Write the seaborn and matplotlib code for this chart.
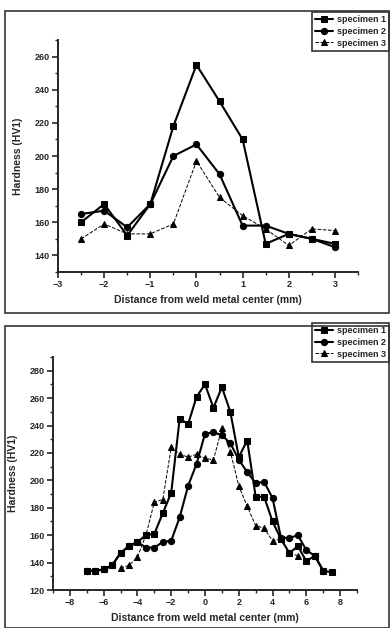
import pandas as pd
import seaborn as sns
import matplotlib.pyplot as plt
from matplotlib.patches import Rectangle
from matplotlib.ticker import MultipleLocator

sns.set_theme(style="ticks")
plt.rcParams['font.family'] = ['Liberation Sans', 'DejaVu Sans']
plt.rcParams['font.weight'] = 'bold'

# upper panel (narrow scan)
top_x = [-2.5, -2, -1.5, -1, -0.5, 0, 0.5, 1, 1.5, 2, 2.5, 3]
top_spec1 = [160, 171, 152, 171, 218, 255, 233, 210, 147, 153, 150, 147]
top_spec2 = [165, 167, 157, 171, 200, 207, 189, 158, 158, 153, 150, 145]
top_spec3 = [150, 159, 153, 153, 159, 197, 175, 164, 156, 146, 156, 155]

# lower panel (wide scan)
bot_x1 = [-7, -6.5, -6, -5.5, -5, -4.5, -4, -3.5, -3, -2.5, -2, -1.5, -1, -0.5, 0,
          0.5, 1, 1.5, 2, 2.5, 3, 3.5, 4, 4.5, 5, 5.5, 6, 6.5, 7, 7.5]
bot_spec1 = [134, 134, 135, 138, 147, 152, 155, 160, 161, 176, 191, 245, 241, 261, 270,
             253, 268, 250, 217, 229, 188, 188, 170, 157, 147, 152, 141, 145, 134, 133]
bot_x2 = [-7, -6.5, -6, -5.5, -5, -4.5, -4, -3.5, -3, -2.5, -2, -1.5, -1, -0.5, 0,
          0.5, 1, 1.5, 2, 2.5, 3, 3.5, 4, 4.5, 5, 5.5, 6, 6.5, 7]
bot_spec2 = [134, 134, 135, 138, 147, 152, 155, 151, 151, 155, 156, 173, 196, 212, 234,
             235, 233, 227, 215, 206, 198, 199, 187, 158, 158, 160, 149, 145, 134]
bot_x3 = [-5, -4.5, -4, -3.5, -3, -2.5, -2, -1.5, -1, -0.5, 0, 0.5, 1, 1.5, 2, 2.5,
          3, 3.5, 4, 4.5, 5, 5.5]
bot_spec3 = [136, 138, 144, 160, 184, 186, 224, 219, 217, 219, 216, 215, 238, 221, 196, 181,
             167, 165, 156, 157, 147, 145]

labels = ['specimen 1', 'specimen 2', 'specimen 3']
markers = ['s', 'o', '^']
styles = ['-', '-', '--']
widths = [1.5, 1.5, 0.7]

W, H = 391, 628
fig = plt.figure(figsize=(W / 100, H / 100), dpi=100)


def px_axes(left, top, right, bottom):
    return fig.add_axes([left / W, 1 - bottom / H, (right - left) / W, (bottom - top) / H])


def draw_panel(ax, series, xlim, ylim, xmaj, xmin, legend_top):
    for (xs, ys), lab, m, ls, lw in zip(series, labels, markers, styles, widths):
        df = pd.DataFrame({'x': xs, 'y': ys})
        sns.lineplot(data=df, x='x', y='y', ax=ax, color='black', marker=m,
                     markersize=4.5, markeredgecolor='black', linestyle=ls,
                     linewidth=lw, label=lab)
    ax.set_xlim(*xlim)
    ax.set_ylim(*ylim)
    ax.xaxis.set_major_locator(MultipleLocator(xmaj))
    ax.xaxis.set_minor_locator(MultipleLocator(xmin))
    ax.yaxis.set_major_locator(MultipleLocator(20))
    ax.yaxis.set_minor_locator(MultipleLocator(10))
    ax.tick_params(which='major', direction='out', length=4, width=1.2,
                   labelsize=6.5, pad=2)
    ax.tick_params(which='minor', direction='out', length=2, width=1)
    for s in ['top', 'right']:
        ax.spines[s].set_visible(False)
    for s in ['left', 'bottom']:
        ax.spines[s].set_linewidth(1.4)
    ax.set_xlabel('Distance from weld metal center (mm)', fontsize=7.5,
                  fontweight='bold', labelpad=4)
    ax.set_ylabel('Hardness (HV1)', fontsize=7.5, fontweight='bold', labelpad=8)
    leg = ax.legend(loc='upper right', bbox_to_anchor=(389 / W, 1 - legend_top / H),
                    bbox_transform=fig.transFigure, frameon=True, fancybox=False,
                    fontsize=6.5, handlelength=2.0, handletextpad=0.4,
                    borderpad=0.35, labelspacing=0.3, borderaxespad=0)
    leg.get_frame().set_edgecolor('black')
    leg.get_frame().set_linewidth(1.2)


ax1 = px_axes(58, 40, 358, 272)
draw_panel(ax1, [(top_x, top_spec1), (top_x, top_spec2), (top_x, top_spec3)],
           (-3, 3.5), (130, 270), 1, 0.5, 12)

ax2 = px_axes(53, 357, 357, 590)
draw_panel(ax2, [(bot_x1, bot_spec1), (bot_x2, bot_spec2), (bot_x3, bot_spec3)],
           (-9, 9), (120, 290), 2, 1, 323)

# scanned figure frames
for top, bottom in [(11, 313), (326, 628)]:
    fig.patches.append(Rectangle((5 / W, 1 - bottom / H), 384 / W, (bottom - top) / H,
                                 transform=fig.transFigure, fill=False,
                                 edgecolor='#333333', linewidth=1.2))

fig.savefig('out.png', dpi=100)
